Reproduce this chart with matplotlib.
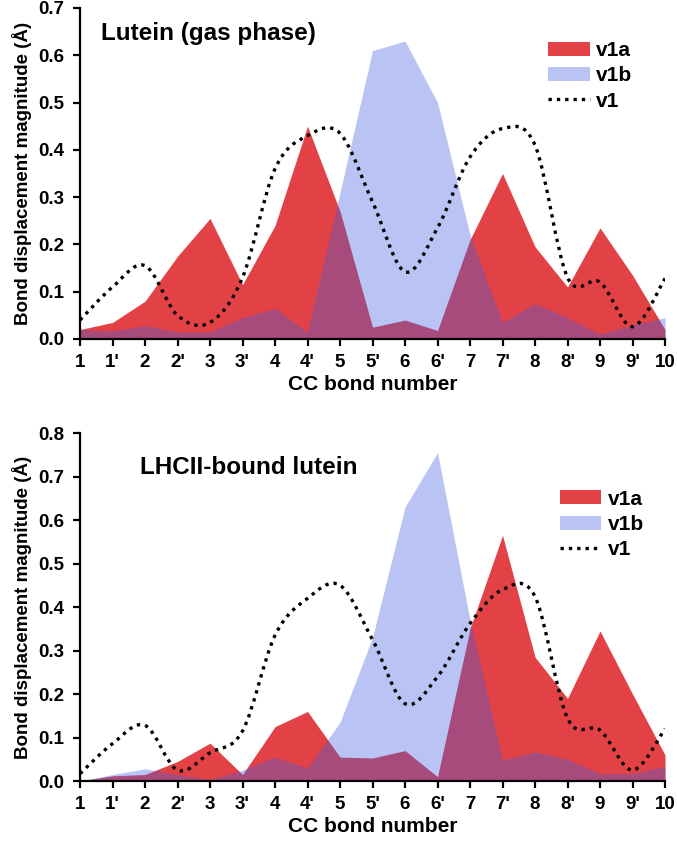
import numpy as np
import matplotlib
matplotlib.use('Agg')
from matplotlib import pyplot as plt
from matplotlib.path import Path
from matplotlib.patches import PathPatch, Patch
from matplotlib.lines import Line2D

plt.rcParams['font.family'] = ['Liberation Sans', 'DejaVu Sans']
plt.rcParams['font.weight'] = 'bold'

bonds = ["1", "1'", "2", "2'", "3", "3'", "4", "4'", "5", "5'",
         "6", "6'", "7", "7'", "8", "8'", "9", "9'", "10"]

# Lutein (gas phase)
gas_v1a = [0.02, 0.035, 0.08, 0.175, 0.255, 0.115, 0.24, 0.45, 0.27, 0.025,
           0.04, 0.018, 0.21, 0.35, 0.195, 0.11, 0.235, 0.135, 0.02]
gas_v1b = [0.02, 0.017, 0.028, 0.015, 0.015, 0.045, 0.065, 0.015, 0.31, 0.61,
           0.63, 0.50, 0.22, 0.035, 0.075, 0.045, 0.01, 0.03, 0.045]
gas_v1 = [0.04, 0.11, 0.155, 0.05, 0.035, 0.13, 0.36, 0.43, 0.435, 0.29,
          0.142, 0.235, 0.385, 0.445, 0.41, 0.13, 0.12, 0.026, 0.128]

# LHCII-bound lutein
lhc_v1a = [0.0, 0.012, 0.015, 0.045, 0.087, 0.015, 0.125, 0.16, 0.055, 0.053,
           0.07, 0.01, 0.35, 0.565, 0.285, 0.19, 0.345, 0.2, 0.06]
lhc_v1b = [0.0, 0.015, 0.028, 0.015, 0.003, 0.025, 0.055, 0.03, 0.135, 0.33,
           0.63, 0.755, 0.37, 0.048, 0.067, 0.05, 0.017, 0.017, 0.034]
lhc_v1 = [0.017, 0.086, 0.128, 0.025, 0.065, 0.115, 0.335, 0.42, 0.45, 0.325,
          0.178, 0.24, 0.362, 0.44, 0.424, 0.144, 0.117, 0.025, 0.12]

red = (226/255, 66/255, 69/255)
blue = (63/255, 91/255, 227/255)
dots = (0, (1, 1.5))


def smooth_path(x, y):
    # Excel-style smoothed line: cubic bezier through the points
    x = np.asarray(x, float)
    y = np.asarray(y, float)
    verts = [(x[0], y[0])]
    codes = [Path.MOVETO]
    n = len(x)
    for i in range(n - 1):
        x0, y0 = (x[i - 1], y[i - 1]) if i > 0 else (x[i], y[i])
        x3, y3 = (x[i + 2], y[i + 2]) if i + 2 < n else (x[i + 1], y[i + 1])
        c1 = (x[i] + (x[i + 1] - x0) / 6, y[i] + (y[i + 1] - y0) / 6)
        c2 = (x[i + 1] - (x3 - x[i]) / 6, y[i + 1] - (y3 - y[i]) / 6)
        verts += [c1, c2, (x[i + 1], y[i + 1])]
        codes += [Path.CURVE4] * 3
    return Path(verts, codes)


def panel(ax, v1a, v1b, v1, title, ymax, title_pos, leg_pos):
    x = np.arange(len(bonds))
    ax.fill_between(x, 0, v1a, color=red, lw=0)
    ax.fill_between(x, 0, v1b, color=blue, alpha=0.36, lw=0)
    ax.add_patch(PathPatch(smooth_path(x, v1), fill=False, ec='black',
                           lw=2.4, ls=dots))
    ax.set_xlim(0, len(bonds) - 1)
    ax.set_ylim(0, ymax)
    ax.set_xticks(x)
    ax.set_xticklabels(bonds)
    yt = np.arange(0, ymax + 0.001, 0.1)
    ax.set_yticks(yt)
    ax.set_yticklabels(['%.1f' % v for v in yt])
    ax.tick_params(labelsize=13.5, width=1.6, length=5, direction='out')
    ax.tick_params(axis='x', pad=6)
    ax.tick_params(axis='y', pad=6)
    ax.spines['top'].set_visible(False)
    ax.spines['right'].set_visible(False)
    ax.spines['left'].set_linewidth(1.6)
    ax.spines['bottom'].set_linewidth(1.6)
    ax.set_xlabel('CC bond number', fontsize=15, fontweight='bold', labelpad=3)
    ax.set_ylabel('Bond displacement magnitude (Å)', fontsize=13.5,
                  fontweight='bold', labelpad=5)
    ax.text(title_pos[0], title_pos[1], title, transform=ax.transAxes,
            fontsize=17.5, fontweight='bold', va='center', ha='left')
    handles = [Patch(color=red, lw=0),
               Patch(color=blue, alpha=0.36, lw=0),
               Line2D([], [], color='black', lw=2.4, ls=dots)]
    ax.legend(handles, ['v1a', 'v1b', 'v1'], loc='upper left',
              bbox_to_anchor=leg_pos, frameon=False, fontsize=15,
              handlelength=2.0, handleheight=0.65, handletextpad=0.3,
              labelspacing=0.3, borderaxespad=0, borderpad=0)


fig = plt.figure(figsize=(6.77, 8.42), dpi=100)
ax1 = fig.add_axes([0.1182, 0.5974, 0.8641, 0.3931])
ax2 = fig.add_axes([0.1182, 0.0724, 0.8641, 0.4133])

panel(ax1, gas_v1a, gas_v1b, gas_v1, 'Lutein (gas phase)', 0.7,
      (0.036, 0.924), (0.80, 0.90))
panel(ax2, lhc_v1a, lhc_v1b, lhc_v1, 'LHCII-bound lutein', 0.8,
      (0.103, 0.90), (0.82, 0.837))

plt.savefig('out.png', dpi=100)
